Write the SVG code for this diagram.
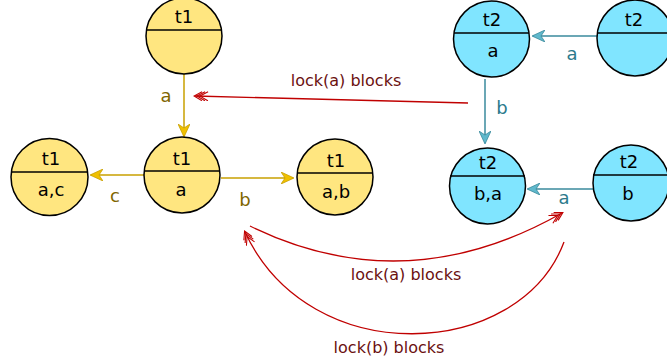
<svg xmlns="http://www.w3.org/2000/svg" width="667" height="360" viewBox="0 0 667 360">
<style>
text{font-family:"DejaVu Sans",sans-serif;text-anchor:middle}
.y{fill:#ffe680;stroke:#000;stroke-width:1.5}
.b{fill:#80e5ff;stroke:#000;stroke-width:1.5}
.div{stroke:#000;stroke-width:1.5}
.nt{font-size:18px;fill:#000}
.ye{stroke:#c8a000;stroke-width:1.5;fill:none}
.be{stroke:#3a8a9c;stroke-width:1.5;fill:none}
.re{stroke:#c00000;stroke-width:1.3;fill:none}
.yl{font-size:18px;fill:#806600}
.bl{font-size:18px;fill:#2c7a8c}
.rl{font-size:16px;fill:#6b1010}
</style>
<defs>
<marker id="ay" markerWidth="14" markerHeight="12" refX="12" refY="6" orient="auto" markerUnits="userSpaceOnUse">
<path d="M0,0 L13,6 L0,12 L4,6 z" fill="#f0c000" stroke="#c8a000" stroke-width="0.8"/>
</marker>
<marker id="ab" markerWidth="14" markerHeight="12" refX="12" refY="6" orient="auto" markerUnits="userSpaceOnUse">
<path d="M0,0 L13,6 L0,12 L4,6 z" fill="#5fb8cc" stroke="#3a8a9c" stroke-width="0.8"/>
</marker>
<marker id="ar" markerWidth="16" markerHeight="10" refX="14" refY="5" orient="auto" markerUnits="userSpaceOnUse">
<path d="M4,0.5 L12,5 L4,9.5 M1,0.5 L9,5 L1,9.5 M7,0.5 L15,5 L7,9.5" fill="none" stroke="#c00000" stroke-width="1.1"/>
</marker>
</defs>
<g id="edges">
<line class="ye" x1="184" y1="73" x2="184" y2="136" marker-end="url(#ay)"/>
<text class="yl" x="166" y="102">a</text>
<line class="ye" x1="144" y1="175" x2="91" y2="175" marker-end="url(#ay)"/>
<text class="yl" x="115" y="202">c</text>
<line class="ye" x1="221" y1="178" x2="293" y2="178" marker-end="url(#ay)"/>
<text class="yl" x="245" y="206">b</text>
<line class="be" x1="597" y1="36" x2="533" y2="36" marker-end="url(#ab)"/>
<text class="bl" x="572" y="60">a</text>
<line class="be" x1="485" y1="79" x2="485" y2="143" marker-end="url(#ab)"/>
<text class="bl" x="502" y="114">b</text>
<line class="be" x1="593" y1="189" x2="528" y2="189" marker-end="url(#ab)"/>
<text class="bl" x="564" y="204">a</text>
<line class="re" x1="468" y1="103" x2="195" y2="96" marker-end="url(#ar)"/>
<text class="rl" x="346" y="86">lock(a) blocks</text>
<path class="re" d="M250,226 Q405,302 562,213" marker-end="url(#ar)"/>
<text class="rl" x="406" y="280">lock(a) blocks</text>
<path class="re" d="M564,242 C520,360 310,372 245,232" marker-end="url(#ar)"/>
<text class="rl" x="389" y="353">lock(b) blocks</text>
</g>
<g id="t1_top">
<circle class="y" cx="184" cy="36" r="38"/>
<line class="div" x1="146" y1="30" x2="222" y2="30"/>
<text class="nt" x="184" y="23">t1</text>
</g>
<g id="t1_mid">
<circle class="y" cx="182" cy="175" r="38"/>
<line class="div" x1="144.5" y1="171" x2="219.5" y2="171"/>
<text class="nt" x="182" y="165">t1</text>
<text class="nt" x="181" y="196">a</text>
</g>
<g id="t1_left">
<circle class="y" cx="49.5" cy="177" r="38.5"/>
<line class="div" x1="11" y1="172" x2="88" y2="172"/>
<text class="nt" x="51" y="165">t1</text>
<text class="nt" x="51" y="196">a,c</text>
</g>
<g id="t1_right">
<circle class="y" cx="335" cy="177" r="38"/>
<line class="div" x1="297" y1="173" x2="373" y2="173"/>
<text class="nt" x="336" y="167">t1</text>
<text class="nt" x="336" y="198">a,b</text>
</g>
<g id="t2_a">
<circle class="b" cx="491.5" cy="39" r="38"/>
<line class="div" x1="454" y1="33" x2="529" y2="33"/>
<text class="nt" x="492" y="26">t2</text>
<text class="nt" x="493" y="57">a</text>
</g>
<g id="t2_empty">
<circle class="b" cx="635" cy="38" r="38"/>
<line class="div" x1="597" y1="33" x2="673" y2="33"/>
<text class="nt" x="634" y="26">t2</text>
</g>
<g id="t2_ba">
<circle class="b" cx="487.5" cy="186" r="38"/>
<line class="div" x1="450" y1="176" x2="525" y2="176"/>
<text class="nt" x="488" y="169">t2</text>
<text class="nt" x="488" y="200">b,a</text>
</g>
<g id="t2_b">
<circle class="b" cx="631" cy="183" r="38"/>
<line class="div" x1="593" y1="175" x2="669" y2="175"/>
<text class="nt" x="629" y="168">t2</text>
<text class="nt" x="628" y="200">b</text>
</g>
</svg>
